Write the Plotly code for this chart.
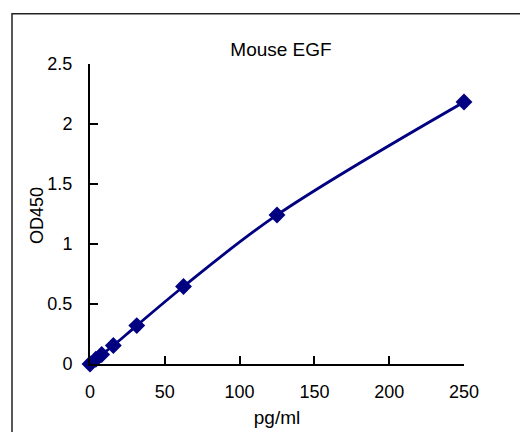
import plotly.graph_objects as go

conc = [0, 3.9, 7.8, 15.6, 31.25, 62.5, 125, 250]
od = [0, 0.04, 0.079, 0.154, 0.32, 0.646, 1.242, 2.183]
x_ticks = [0, 50, 100, 150, 200, 250]
y_ticks = [0, 0.5, 1, 1.5, 2, 2.5]
y_tick_text = ["0", "0.5", "1", "1.5", "2", "2.5"]

W, H = 528, 432
OFF = 8  # page body margin
L, T = 90 - OFF, 63.5 - OFF
pw, ph = 374, 301
R, B = W - L - pw, H - T - ph

fig = go.Figure()
fig.add_trace(go.Scatter(
    x=conc, y=od, mode="lines+markers",
    line=dict(color="#000080", width=2.8, shape="spline"),
    marker=dict(symbol="diamond", size=13, color="#000080"),
    cliponaxis=False, showlegend=False,
))

font = "Liberation Sans, Arial, sans-serif"
fig.update_layout(
    width=W, height=H,
    margin=dict(l=L, r=R, t=T, b=B),
    paper_bgcolor="white", plot_bgcolor="white",
    font=dict(family=font, size=18, color="black"),
    title=dict(text="Mouse EGF", x=(281 - OFF) / W, xanchor="center",
               y=1 - (49 - OFF) / H, yanchor="middle", font=dict(size=19)),
    xaxis=dict(range=[0, 250], tickvals=x_ticks, ticks="inside", ticklen=8,
               tickwidth=2, tickcolor="black", showline=True, linecolor="black",
               linewidth=2, showgrid=False, zeroline=False,
               ticklabelstandoff=10, tickfont=dict(size=18),
               title=dict(text="pg/ml", standoff=10, font=dict(size=19))),
    yaxis=dict(range=[0, 2.5], tickvals=y_ticks, ticktext=y_tick_text,
               ticks="inside", ticklen=8, tickwidth=2, tickcolor="black",
               showline=True, linecolor="black", linewidth=2, showgrid=False,
               zeroline=False, ticklabelstandoff=12, tickfont=dict(size=18)),
    annotations=[dict(text="OD450", xref="paper", yref="paper",
                      x=(37 - OFF - L) / pw, y=(H - B - (215 - OFF)) / ph,
                      xanchor="center", yanchor="middle", textangle=-90,
                      showarrow=False, font=dict(size=18))],
    shapes=[dict(type="rect", xref="paper", yref="paper",
                 x0=(12 - OFF - L) / pw, x1=(560 - L) / pw,
                 y0=(H - B - 460) / ph, y1=(H - B - (13 - OFF)) / ph,
                 line=dict(color="#222222", width=1.5), layer="below")],
)

fig.write_html("out.html")
